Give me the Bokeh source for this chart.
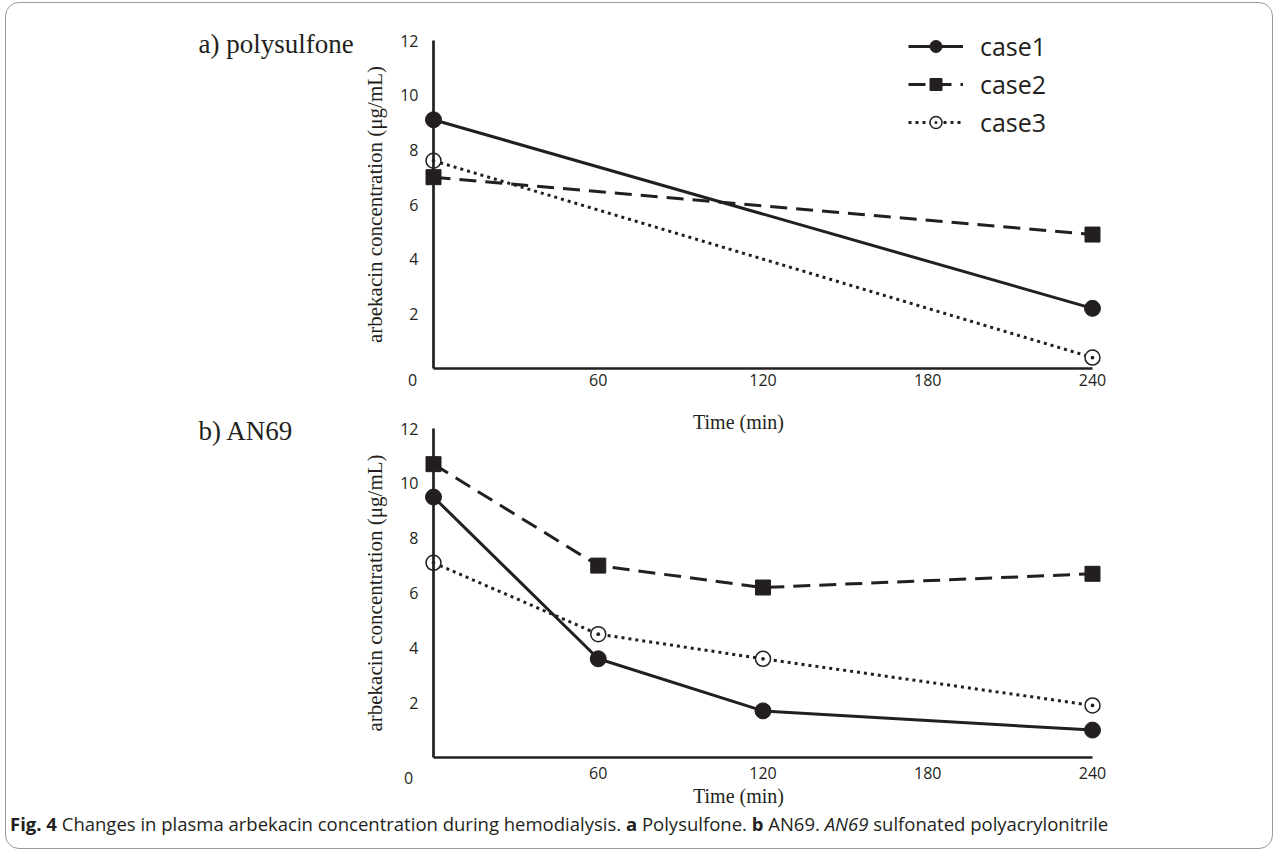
from bokeh.plotting import figure
from bokeh.models import Range1d, FixedTicker, Label, Legend, LegendItem, Div
from bokeh.layouts import column
from bokeh.embed import file_html
from bokeh.resources import INLINE

# ---- data ----
times_a = [0, 240]
a_case1 = [9.1, 2.2]
a_case2 = [7.0, 4.9]
a_case3 = [7.6, 0.4]

times_b = [0, 60, 120, 240]
b_case1 = [9.5, 3.6, 1.7, 1.0]
b_case2 = [10.7, 7.0, 6.2, 6.7]
b_case3 = [7.1, 4.5, 3.6, 1.9]

x_ticks = [60, 120, 180, 240]
y_ticks = [2, 4, 6, 8, 10, 12]
zero_label = "0"
series_names = ["case1", "case2", "case3"]
panel_titles = ["a) polysulfone", "b) AN69"]
x_title = "Time (min)"
y_title = "arbekacin concentration (\u03bcg/mL)"
caption_html = ('<b>Fig. 4</b> Changes in plasma arbekacin concentration during hemodialysis. '
                '<b>a</b> Polysulfone. <b>b</b> AN69. <i>AN69</i> sulfonated polyacrylonitrile')

INK = "#231f20"
W = 1266
SERIF = "Liberation Serif"
SANS = "Open Sans"
X_LO, X_HI = -103.07, 250.2


def txt(**kw):
    base = dict(text_baseline="middle", text_color=INK)
    base.update(kw)
    return Label(**base)


def make_panel(height, top, bottom, yrange, xstandoff, zero_off, time_off, times, c1, c2, c3, margin):
    p = figure(width=W, height=height, x_range=Range1d(X_LO, X_HI), y_range=Range1d(*yrange),
               output_backend="svg", toolbar_location=None,
               min_border_left=144, min_border_right=152,
               min_border_top=top, min_border_bottom=bottom, margin=margin)
    p.outline_line_color = None
    p.grid.visible = False
    p.background_fill_color = None
    p.border_fill_color = None

    p.xaxis.ticker = FixedTicker(ticks=x_ticks)
    p.xaxis.fixed_location = 0
    p.xaxis.bounds = (0, 240)
    p.yaxis.ticker = FixedTicker(ticks=y_ticks)
    p.yaxis.fixed_location = 0
    p.yaxis.bounds = (0, 12)
    for ax in (p.xaxis, p.yaxis):
        ax.major_tick_line_color = None
        ax.minor_tick_line_color = None
        ax.major_tick_out = 0
        ax.major_tick_in = 0
        ax.major_label_text_font = SANS
        ax.major_label_text_font_size = "16px"
        ax.major_label_text_color = INK
        ax.axis_line_color = INK
        ax.axis_line_width = 2.7
    p.xaxis.major_label_standoff = xstandoff
    p.yaxis.major_label_standoff = 15
    p.yaxis.axis_label = y_title
    p.yaxis.axis_label_text_font = SERIF
    p.yaxis.axis_label_text_font_size = "21px"
    p.yaxis.axis_label_text_font_style = "normal"
    p.yaxis.axis_label_text_color = INK
    p.yaxis.axis_label_standoff = 10

    r1l = p.line(times, c1, line_color=INK, line_width=3)
    r2l = p.line(times, c2, line_color=INK, line_width=3, line_dash="17 9")
    r3l = p.line(times, c3, line_color=INK, line_width=3, line_dash="3 4")
    r1m = p.scatter(times, c1, marker="circle", size=16, fill_color=INK, line_color=INK)
    r2m = p.scatter(times, c2, marker="square", size=15, fill_color=INK, line_color=INK)
    r3m = p.scatter(times, c3, marker="circle_dot", size=15, fill_color="white",
                    line_color=INK, line_width=1.5)

    # "0" of the concentration axis, drawn low as in the original
    p.add_layout(txt(x=0, y=0, x_offset=zero_off[0], y_offset=zero_off[1], text=zero_label,
                     text_align="center", text_font=SANS, text_font_size="16px"))
    # x-axis title
    p.add_layout(txt(x=111.08, y=0, y_offset=time_off, text=x_title, text_align="center",
                     text_font=SERIF, text_font_size="20px"))
    return p, [(series_names[0], [r1l, r1m]), (series_names[1], [r2l, r2m]), (series_names[2], [r3l, r3m])]


# panel a : frame spans page y 10..436
pa, items = make_panel(473, 7, 40, (-2.488, 13.098), 6, (-21, -12), -54,
                       times_a, a_case1, a_case2, a_case3, margin=0)
pa.add_layout(txt(x=0, y=12, x_offset=-235, y_offset=-3, text=panel_titles[0], text_align="left",
                  text_font=SERIF, text_font_size="27px"))
lg = Legend(items=[LegendItem(label=n, renderers=r) for n, r in items],
            location=(758, 229 + 68), orientation="vertical",
            glyph_width=55, glyph_height=30, label_height=30, spacing=4,
            padding=0, margin=0, label_standoff=17,
            label_text_font=SANS, label_text_font_size="25px", label_text_color=INK,
            border_line_color=None, background_fill_alpha=0)
pa.add_layout(lg)

# panel b : frame spans page y 405..810, overlapping the empty band under panel a
pb, _ = make_panel(441, 0, 36, (-1.933, 12.839), 9, (-25, -20), -38,
                   times_b, b_case1, b_case2, b_case3, margin=(-71, 0, 0, 0))
pb.add_layout(txt(x=0, y=12, x_offset=-235, y_offset=-2, text=panel_titles[1], text_align="left",
                  text_font=SERIF, text_font_size="27px"))

cap = Div(text=('<div style="font-family:\'Open Sans\';font-size:18.5px;color:%s;line-height:22px;'
                'padding:3px 0 0 4px;white-space:nowrap;">%s</div>' % (INK, caption_html)),
          width=W, height=38, margin=(-36, 0, 0, 0))

layout = column(pa, pb, cap, margin=(2, 0, 0, 5),
                styles={"border": "1px solid #9a9a9a", "border-radius": "14px", "background": "white"})

with open("out.html", "w") as f:
    f.write(file_html(layout, INLINE))
